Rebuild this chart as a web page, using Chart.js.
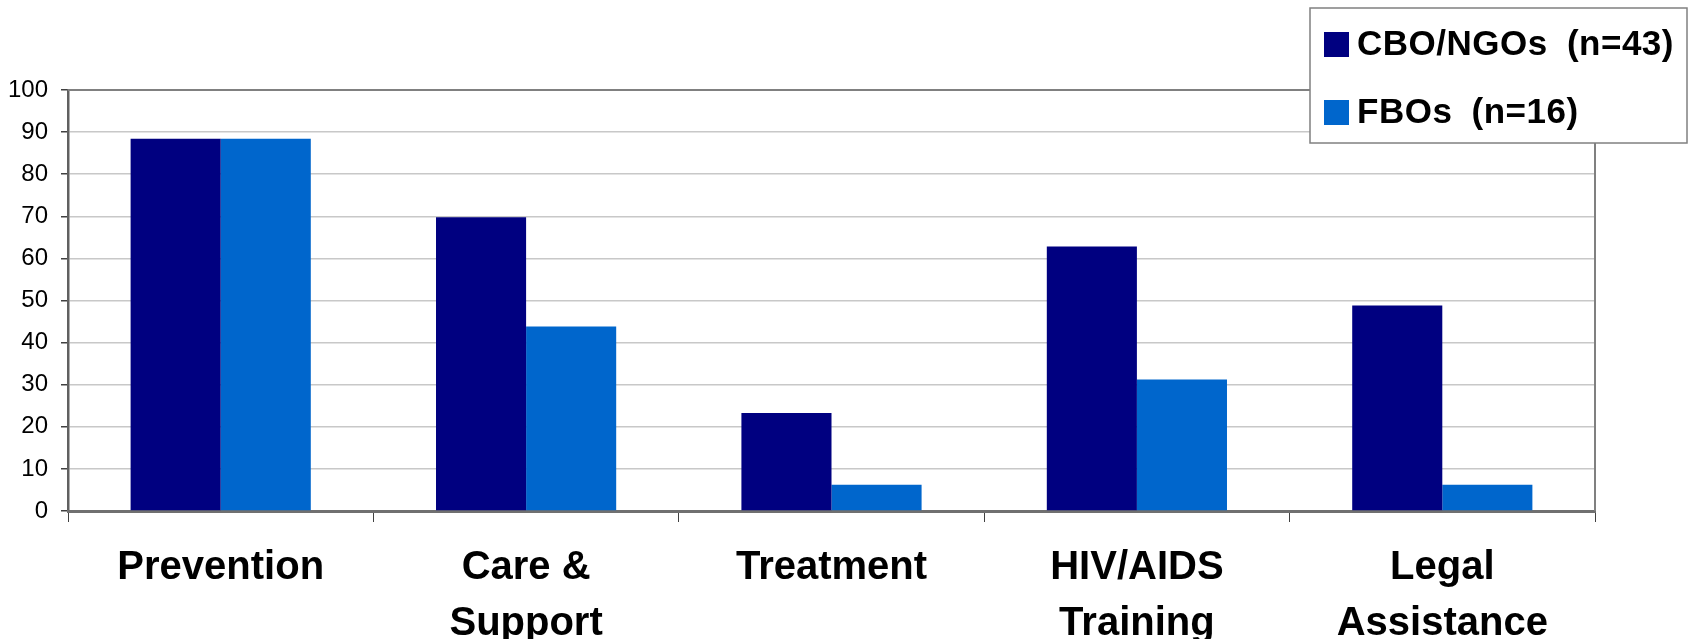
<!DOCTYPE html>
<html>
<head>
<meta charset="utf-8">
<script src="https://cdn.jsdelivr.net/npm/chart.js@4"></script>
<style>
    html, body { margin: 0; padding: 0; background: #ffffff; }
    #wrap { width: 1690px; height: 639px; position: relative; }
</style>
</head>
<body>
<div id="wrap"><canvas id="servicesChart"></canvas></div>
<script>
// ===============================
// 1. DADOS
// ===============================

const categorias = [['Prevention'], ['Care &', 'Support'], ['Treatment'], ['HIV/AIDS', 'Training'], ['Legal', 'Assistance']];
const cboValores = [88.4, 69.8, 23.3, 62.8, 48.8];
const fboValores = [88.4, 43.8, 6.25, 31.25, 6.25];
const serieNomes = ['CBO/NGOs (n=43)', 'FBOs (n=16)'];
const serieCores = ['#000080', '#0066CC'];
const yTicks = [0, 10, 20, 30, 40, 50, 60, 70, 80, 90, 100];


// ===============================
// 2. PLUGINS (borda + legenda)
// ===============================

const bordaPlot = {
    id: 'bordaPlot',
    afterDraw(chart) {
        const { ctx, chartArea: a } = chart;
        ctx.save();
        ctx.strokeStyle = '#808080';
        ctx.lineWidth = 2;
        ctx.beginPath();
        ctx.moveTo(a.left, a.top);
        ctx.lineTo(a.right, a.top);
        ctx.lineTo(a.right, a.bottom);
        ctx.stroke();
        ctx.restore();
    }
};

const legendaCaixa = {
    id: 'legendaCaixa',
    afterDraw(chart) {
        const ctx = chart.ctx;
        const x = 1310, y = 8, w = 377, h = 135;
        ctx.save();
        ctx.fillStyle = '#ffffff';
        ctx.fillRect(x, y, w, h);
        ctx.strokeStyle = '#808080';
        ctx.lineWidth = 1.5;
        ctx.strokeRect(x, y, w, h);
        ctx.font = 'bold 35px "Liberation Sans", Arial, sans-serif';
        ctx.letterSpacing = '0.5px';
        ctx.wordSpacing = '9px';
        ctx.textBaseline = 'middle';
        const linhas = [44, 112];
        chart.data.datasets.forEach((ds, i) => {
            ctx.fillStyle = ds.backgroundColor;
            ctx.fillRect(x + 14, linhas[i] - 12, 25, 25);
            ctx.fillStyle = '#000000';
            ctx.fillText(ds.label, x + 47, linhas[i] + 1);
        });
        ctx.restore();
    }
};


// ===============================
// 3. GR√ÅFICO
// ===============================

const ctx = document.getElementById('servicesChart').getContext('2d');

new Chart(ctx, {
    type: 'bar',
    data: {
        labels: categorias,
        datasets: [
            { label: serieNomes[0], data: cboValores, backgroundColor: serieCores[0] },
            { label: serieNomes[1], data: fboValores, backgroundColor: serieCores[1] }
        ]
    },
    options: {
        responsive: true,
        maintainAspectRatio: false,
        animation: false,
        layout: { padding: { left: 0, top: 90, right: 95, bottom: 0 } },
        datasets: {
            bar: { categoryPercentage: 0.59, barPercentage: 1.0 }
        },
        plugins: {
            legend: { display: false },
            tooltip: { enabled: false }
        },
        scales: {
            y: {
                min: 0,
                max: 100,
                afterBuildTicks: (scale) => { scale.ticks = yTicks.map(v => ({ value: v })); },
                afterFit: (scale) => { scale.width = 68; },
                grid: { color: '#c8c8c8', lineWidth: 1.5, tickColor: '#404040', tickLength: 7 },
                border: { color: '#606060', width: 2.5 },
                ticks: {
                    color: '#000000',
                    padding: 13,
                    font: { family: '"Liberation Sans", Arial, sans-serif', size: 24 }
                }
            },
            x: {
                afterFit: (scale) => { scale.height = 128; },
                grid: { display: true, drawOnChartArea: false, offset: true, tickColor: '#404040', tickLength: 11 },
                border: { color: '#707070', width: 3 },
                ticks: {
                    color: '#000000',
                    padding: 18,
                    maxRotation: 0,
                    font: { family: '"Liberation Sans", Arial, sans-serif', size: 40, weight: 'bold', lineHeight: 1.4 }
                }
            }
        }
    },
    plugins: [bordaPlot, legendaCaixa]
});
</script>
</body>
</html>
